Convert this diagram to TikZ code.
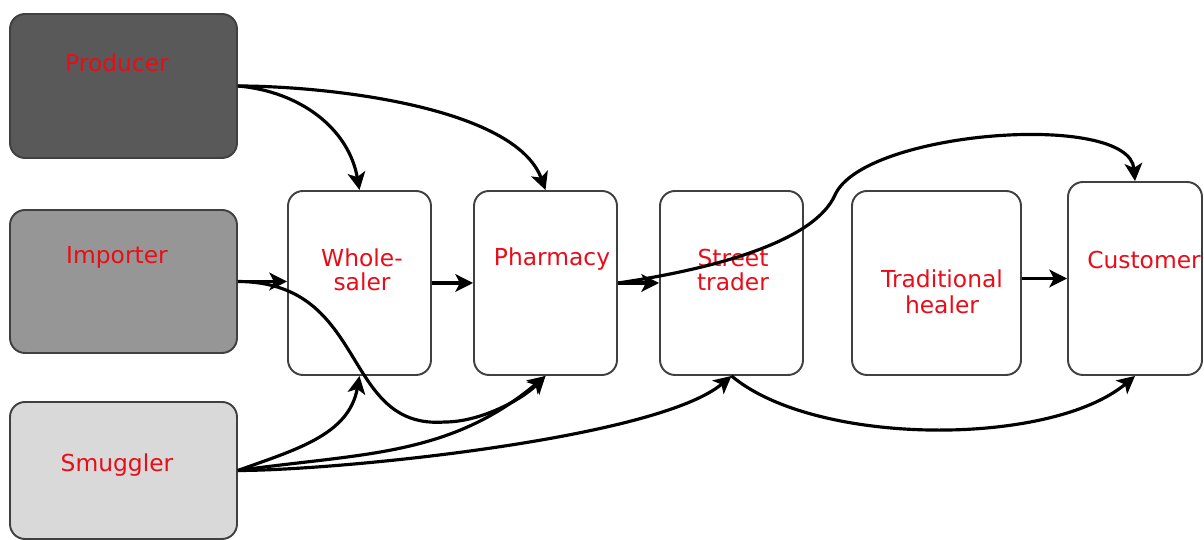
\documentclass[tikz,border=0pt]{standalone}
\usepackage{fontspec}
\setmainfont{DejaVu Sans}
\usetikzlibrary{arrows.meta}

\newlength{\du}
\setlength{\du}{0.02cm}

\definecolor{dialinecolor}{rgb}{0.250000, 0.250000, 0.250000}
\definecolor{labelred}{rgb}{0.910000, 0.050000, 0.100000}
\definecolor{producerfill}{rgb}{0.350000, 0.350000, 0.350000}
\definecolor{importerfill}{rgb}{0.590000, 0.590000, 0.590000}
\definecolor{smugglerfill}{rgb}{0.850000, 0.850000, 0.850000}

\tikzset{
  box/.style={draw=dialinecolor, line width=1.1pt, rounded corners=15\du,
    fill=white, inner sep=0pt},
  source/.style={box, minimum width=227\du},
  shop/.style={box, minimum width=143\du, minimum height=184\du},
  lbl/.style={text=labelred, align=center, inner sep=0pt,
    font=\fontsize{13.3}{13.5}\selectfont},
  flow/.style={line width=1.8pt, -{Stealth[length=10pt,width=10pt,inset=2.5pt]}}
}

\begin{document}
\begin{tikzpicture}[x=\du, y=\du]
\useasboundingbox (0,0) rectangle (1204,540);
% sources
\node[source, fill=producerfill, minimum height=144\du] (prod) at (123.5,454) {};
\node[source, fill=importerfill, minimum height=143\du] (imp) at (123.5,258.5) {};
\node[source, fill=smugglerfill, minimum height=137\du] (smug) at (123.5,69.5) {};
% outlets
\node[shop] (whole) at (359.5,257) {};
\node[shop] (pharm) at (545.5,257) {};
\node[shop] (street) at (731.5,257) {};
\node[shop, minimum width=169\du] (heal) at (936.5,257) {};
\node[box, minimum width=134\du, minimum height=193\du] (cust) at (1135,261.5) {};
% labels
\node[lbl] (lprod) at (117,477) {Producer};
\node[lbl] (limp) at (117,283) {Importer};
\node[lbl] (lsmug) at (117,75) {Smuggler};
\node[lbl] (lwhole) at (362,270) {Whole-\\saler};
\node[lbl] (lpharm) at (552,281) {Pharmacy};
\node[lbl] (lstreet) at (733,270) {Street\\trader};
\node[lbl, font=\fontsize{13.3}{14.5}\selectfont] (lheal) at (942,248) {Traditional\\healer};
\node[lbl] (lcust) at (1144,280) {Customer};
% producer
\draw[flow] (prod.east) to[out=-5, in=100] (whole.north);
\draw[flow] (prod.east) to[out=0, in=110, looseness=0.7] (pharm.north);
% importer
\draw[flow] (imp.east) -- (imp.east -| whole.west);
\draw[flow] (imp.east) .. controls (370,258) and (340,110) .. (445,118)
  to[out=0, in=-135, looseness=0.8] (pharm.south);
% smuggler
\draw[flow] (smug.east) to[out=20, in=-100] (whole.south);
\draw[flow] (smug.east) to[out=8, in=-140] (pharm.south);
\draw[flow] (smug.east) to[out=0, in=-140, looseness=0.5] (street.south);
% along the chain
\draw[flow] (whole.east) -- (pharm.west);
\draw[flow] (pharm.east) -- (street.west);
\draw[flow] (pharm.east) .. controls (720,272) and (815,300) .. (835,345)
  to[out=66, in=95, looseness=0.6] (cust.north);
\draw[flow] (street.south) to[out=-40, in=-140, looseness=0.7] (cust.south);
\draw[flow] (heal.east |- cust.west) -- (cust.west);
\end{tikzpicture}
\end{document}
